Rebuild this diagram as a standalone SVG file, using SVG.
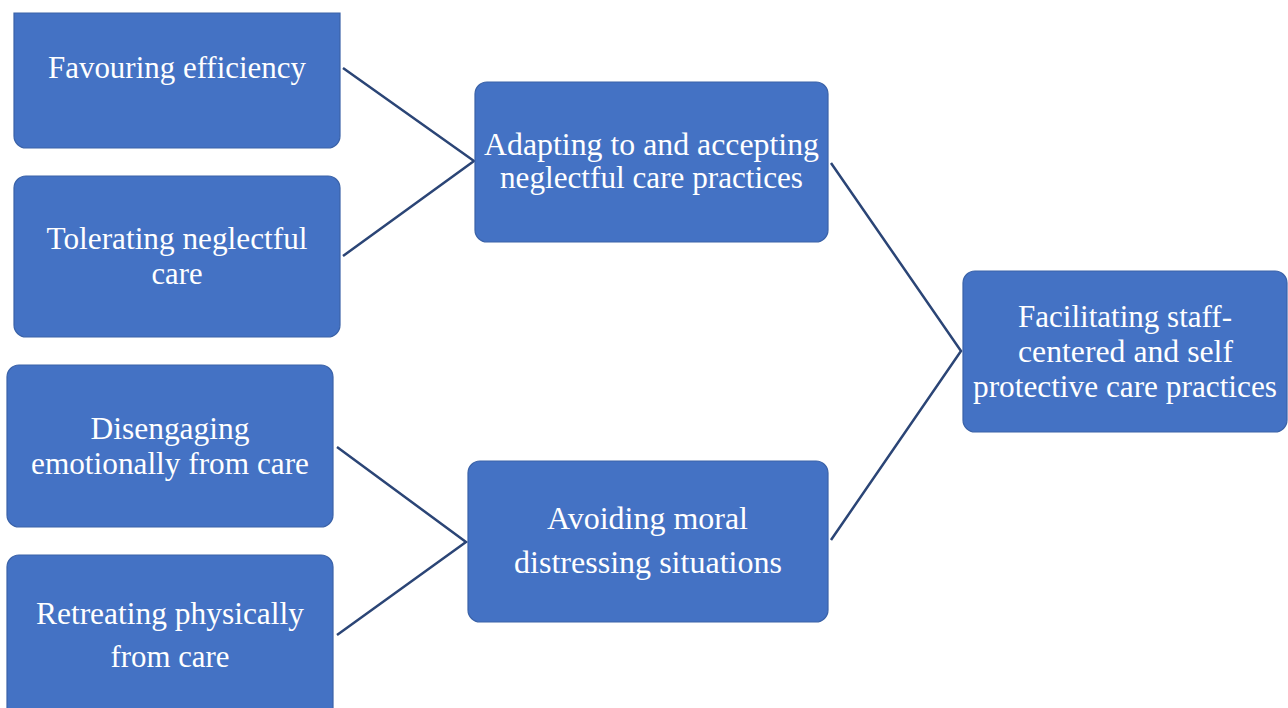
<svg xmlns="http://www.w3.org/2000/svg" width="1288" height="708" viewBox="0 0 1288 708">
<style>
.box{fill:#4472C4;stroke:#3A62A8;stroke-width:1.2}
.t{font-family:"Liberation Serif","DejaVu Serif",serif;font-size:31px;fill:#FFFFFF;text-anchor:middle}
.c{stroke:#2B4576;stroke-width:2.5;fill:none}
</style>
<rect width="1288" height="708" fill="#FFFFFF"/>
<g id="connectors">
<polyline class="c" points="343,68 474,161 343,256"/>
<polyline class="c" points="337,447 466,542 337,635"/>
<polyline class="c" points="831,163 961,351 831,540"/>
</g>
<g id="n-favouring">
<path class="box" d="M14,13 H340 V136 a12,12 0 0 1 -12,12 H26 a12,12 0 0 1 -12,-12 Z"/>
<text class="t" x="177" y="78" textLength="258" lengthAdjust="spacingAndGlyphs">Favouring efficiency</text>
</g>
<g id="n-tolerating">
<rect class="box" x="14" y="176" width="326" height="161" rx="12"/>
<text class="t" x="177" y="249" textLength="261" lengthAdjust="spacingAndGlyphs">Tolerating neglectful</text>
<text class="t" x="177" y="284" textLength="51" lengthAdjust="spacingAndGlyphs">care</text>
</g>
<g id="n-disengaging">
<rect class="box" x="7" y="365" width="326" height="162" rx="12"/>
<text class="t" x="170" y="439" textLength="159" lengthAdjust="spacingAndGlyphs">Disengaging</text>
<text class="t" x="170" y="474" textLength="278" lengthAdjust="spacingAndGlyphs">emotionally from care</text>
</g>
<g id="n-retreating">
<rect class="box" x="7" y="555" width="326" height="170" rx="12"/>
<text class="t" x="170" y="624" textLength="268" lengthAdjust="spacingAndGlyphs">Retreating physically</text>
<text class="t" x="170" y="667" textLength="119" lengthAdjust="spacingAndGlyphs">from care</text>
</g>
<g id="n-adapting">
<rect class="box" x="475" y="82" width="353" height="160" rx="12"/>
<text class="t" x="651.5" y="155" textLength="335" lengthAdjust="spacingAndGlyphs">Adapting to and accepting</text>
<text class="t" x="651.5" y="188" textLength="303" lengthAdjust="spacingAndGlyphs">neglectful care practices</text>
</g>
<g id="n-avoiding">
<rect class="box" x="468" y="461" width="360" height="161" rx="12"/>
<text class="t" x="647.5" y="529" textLength="201" lengthAdjust="spacingAndGlyphs">Avoiding moral</text>
<text class="t" x="648" y="573" textLength="268" lengthAdjust="spacingAndGlyphs">distressing situations</text>
</g>
<g id="n-facilitating">
<rect class="box" x="963" y="271" width="324" height="161" rx="12"/>
<text class="t" x="1125" y="327" textLength="214" lengthAdjust="spacingAndGlyphs">Facilitating staff-</text>
<text class="t" x="1125.5" y="362" textLength="215" lengthAdjust="spacingAndGlyphs">centered and self</text>
<text class="t" x="1125" y="397" textLength="304" lengthAdjust="spacingAndGlyphs">protective care practices</text>
</g>
</svg>
